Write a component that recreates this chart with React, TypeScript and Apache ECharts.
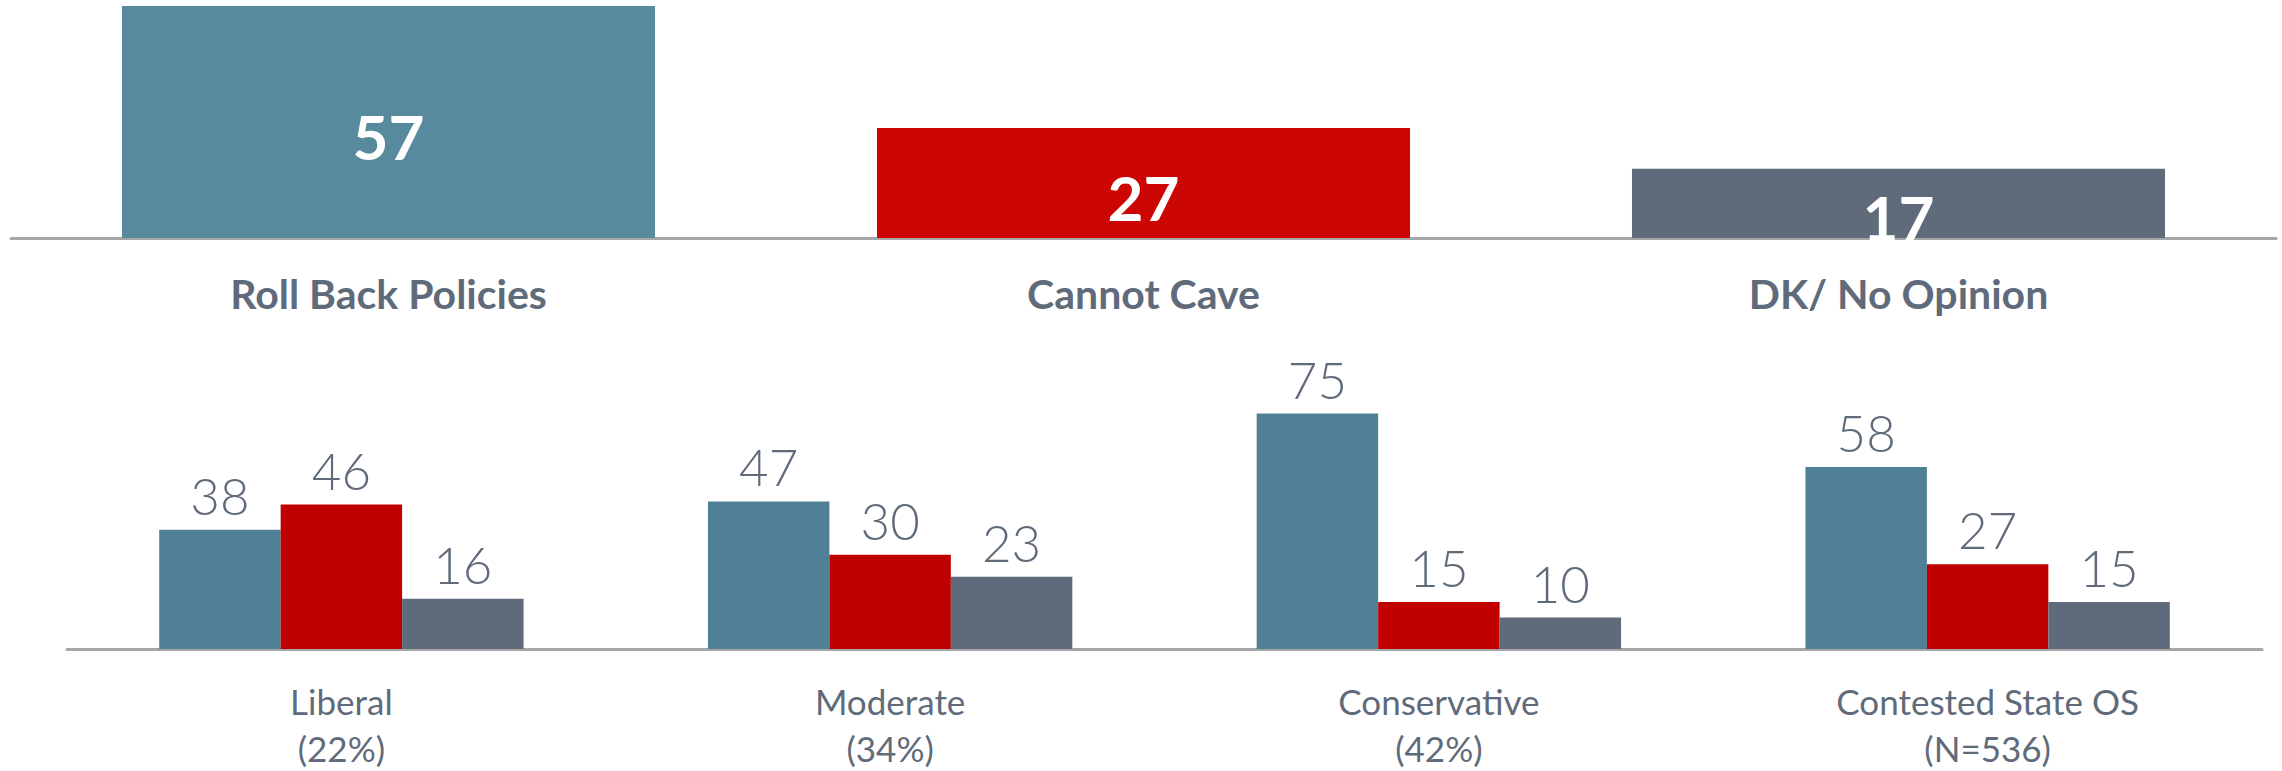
import React, { useEffect, useRef } from "react";
import * as echarts from "echarts";

const topCategories = ["Roll Back Policies", "Cannot Cave", "DK/ No Opinion"];
const topValues = [57, 27, 17];
const topColors = ["#588a9e", "#cc0605", "#5f6b7a"];

const groupCategories = ["Liberal\n(22%)", "Moderate\n(34%)", "Conservative\n(42%)", "Contested State OS\n(N=536)"];
const rollBackValues = [38, 47, 75, 58];
const cannotCaveValues = [46, 30, 15, 27];
const dkValues = [16, 23, 10, 15];
const seriesNames = ["Roll Back Policies", "Cannot Cave", "DK/ No Opinion"];
const groupColors = ["#4f8095", "#c00000", "#5f6b7a"];

const FONT = "Lato, 'Open Sans', sans-serif";
const TEXT = "#5f6b7a";

export default function App() {
  const ref = useRef<HTMLDivElement>(null);
  useEffect(() => {
    document.body.style.margin = "0";
    const chart = echarts.init(ref.current!, null, { renderer: "svg" });
    const axisLine = { show: true, lineStyle: { color: "#a6a6a6", width: 3 } };
    const groupSeries = [rollBackValues, cannotCaveValues, dkValues].map((vals, i) => ({
      type: "bar",
      name: seriesNames[i],
      xAxisIndex: 1,
      yAxisIndex: 1,
      data: vals,
      barGap: "0%",
      barCategoryGap: "33.6%",
      itemStyle: { color: groupColors[i] },
      label: {
        show: true,
        position: "top",
        distance: 9,
        color: TEXT,
        fontFamily: FONT,
        fontSize: 51,
        fontWeight: 300,
      },
    }));
    chart.setOption({
      animation: false,
      textStyle: { fontFamily: FONT },
      grid: [
        { left: 11, right: 6, top: 6, bottom: 533, containLabel: false },
        { left: 67, right: 20, top: 335, bottom: 114, containLabel: false },
      ],
      xAxis: [
        {
          type: "category",
          gridIndex: 0,
          data: topCategories,
          axisLine,
          axisTick: { show: false },
          axisLabel: {
            color: TEXT,
            fontFamily: FONT,
            fontSize: 41,
            fontWeight: "bold",
            margin: 34,
            lineHeight: 42,
          },
        },
        {
          type: "category",
          gridIndex: 1,
          data: groupCategories,
          axisLine,
          axisTick: { show: false },
          axisLabel: {
            color: TEXT,
            fontFamily: FONT,
            fontSize: 35,
            margin: 28,
            lineHeight: 47,
          },
        },
      ],
      yAxis: [
        { type: "value", gridIndex: 0, min: 0, max: "dataMax", show: false, splitLine: { show: false } },
        { type: "value", gridIndex: 1, min: 0, max: 100, show: false, splitLine: { show: false } },
      ],
      series: [
        {
          type: "bar",
          xAxisIndex: 0,
          yAxisIndex: 0,
          barCategoryGap: "29.4%",
          data: topValues.map((v, i) => ({ value: v, itemStyle: { color: topColors[i] } })),
          label: {
            show: true,
            position: "inside",
            offset: [0, 14],
            color: "#ffffff",
            fontFamily: FONT,
            fontSize: 62,
            fontWeight: "bold",
          },
        },
        ...groupSeries,
      ],
    });
    return () => chart.dispose();
  }, []);
  return <div ref={ref} style={{ width: 2282, height: 771 }} />;
}
